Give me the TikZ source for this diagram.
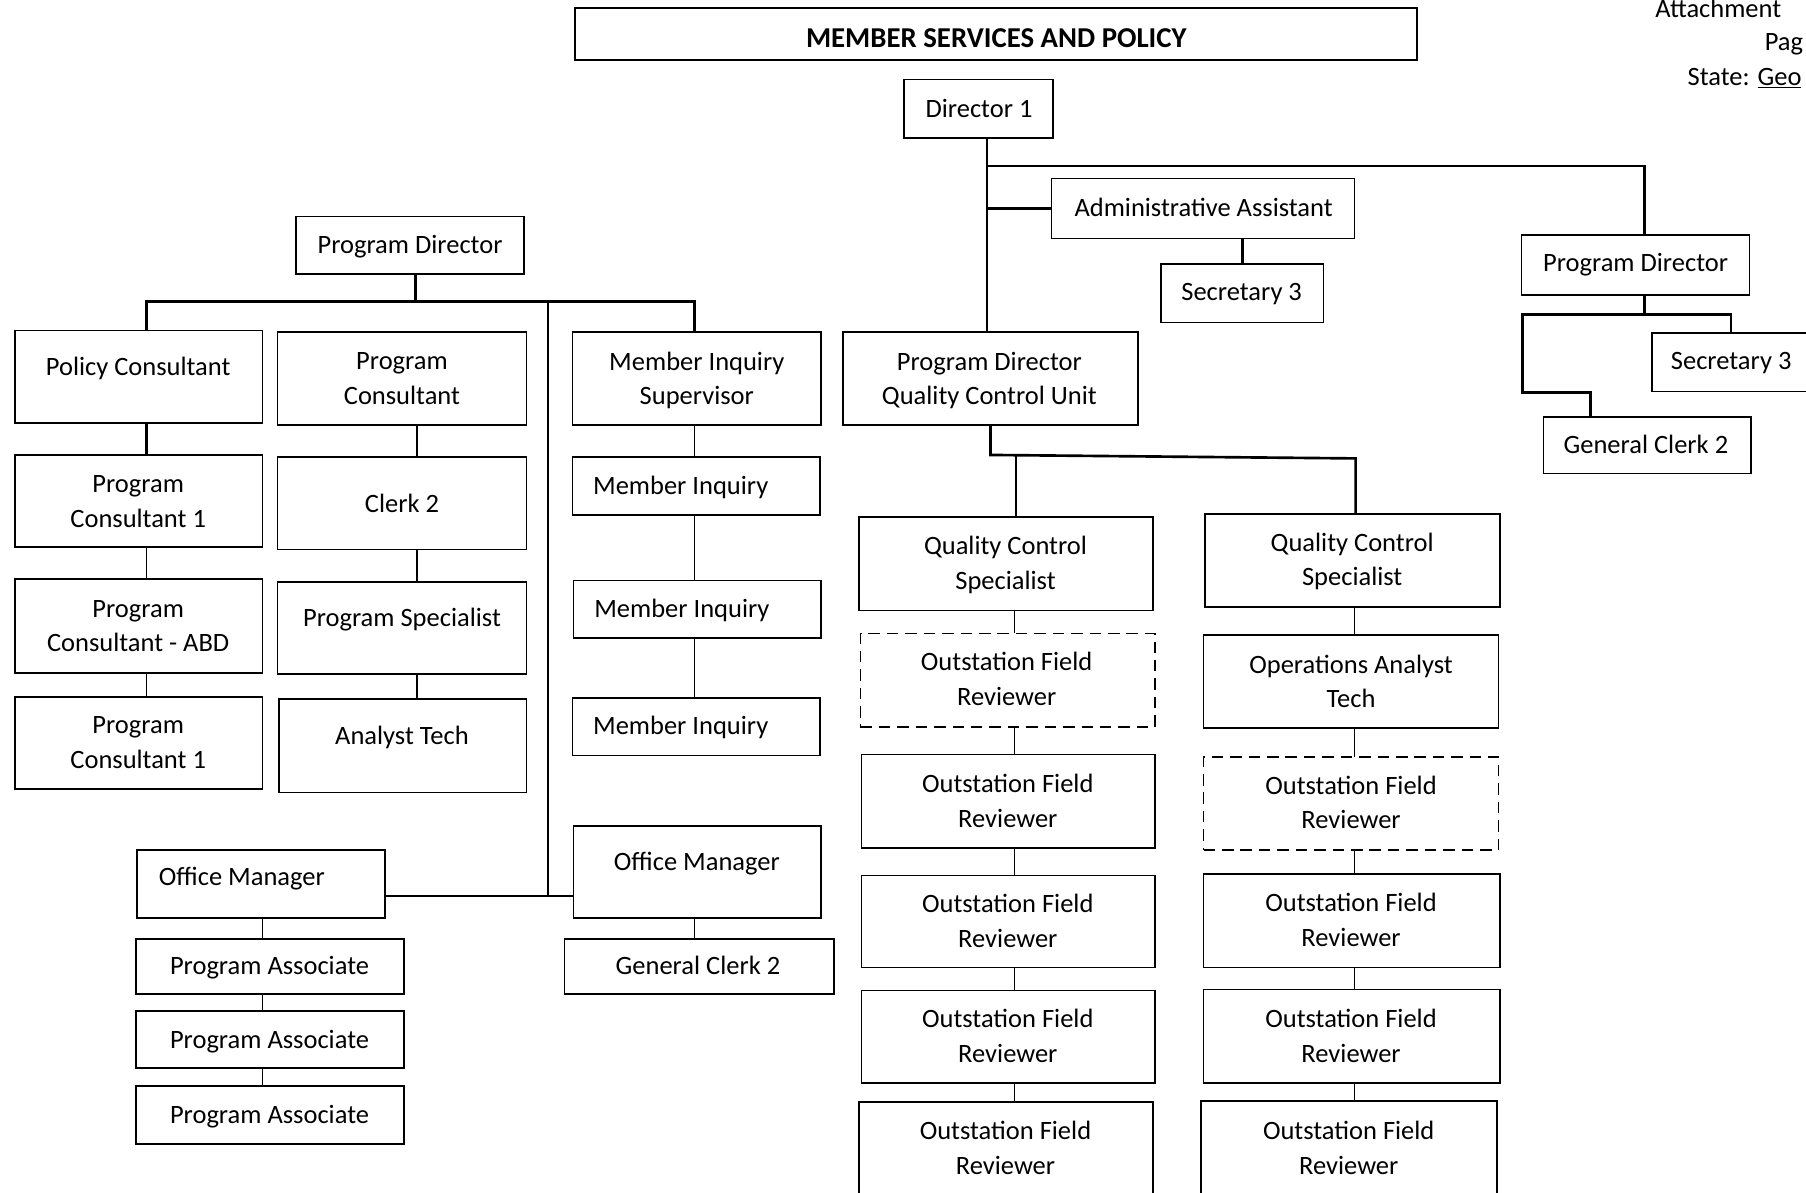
\documentclass[tikz,border=0pt]{standalone}
\usepackage{fontspec}
\setmainfont{Carlito}
\newcommand\fsz{\fontsize{23}{30}\selectfont}
\newcommand\obox[6][obx]{\node[#1, minimum width={#5pt-#3pt}, minimum height={#6pt-#4pt}] (#2) at ({(#3+#5)/2},{(#4+#6)/2}) {};}
\newcommand\otext[5][]{\node[txt,#1] (#2) at (#3,#4) {#5};}
\newcommand\oconn[4]{\draw[#1] (#2 |- #3.south) -- (#2 |- #4.north);}
\begin{document}
\begin{tikzpicture}[x=1pt,y=-1pt,
  obx/.style={draw, line width=1.5pt, rectangle, inner sep=0pt, outer sep=0pt},
  dbx/.style={obx, dash pattern=on 10pt off 6pt},
  txt/.style={font=\fsz, align=center, inner sep=0pt, yshift=-2pt, execute at begin node=\strut, execute at end node=\strut},
  tl/.style={yshift=-3pt},
  corner/.style={font=\fsz, anchor=base west, inner sep=0pt},
  thk/.style={line width=2.3pt},
  med/.style={line width=1.5pt},
  thn/.style={line width=1.1pt}]
\useasboundingbox (0,0) rectangle (1568,1035);
\clip (0,0) rectangle (1568,1035);
% corner texts
\node[corner] (att) at (1437,15) {Attachment};
\node[corner] (pag) at (1532,44) {Pag};
\node[corner] (st) at (1465,74) {State: \underline{Geo}};
% title and top
\obox{title}{499}{7}{1230}{52}
\node[txt, font=\fontsize{25}{30}\selectfont\bfseries] (titlet) at (865,33) {MEMBER SERVICES AND POLICY};
\obox{dir}{785}{69}{914}{120}   \otext{dirt}{850}{94}{Director 1}
\obox{aa}{913}{155}{1176}{207}  \otext{aat}{1045}{180}{Administrative Assistant}
\obox{sec3m}{1008}{229}{1149}{280} \otext{sec3mt}{1078}{253}{Secretary 3}
\obox{rpd}{1321}{204}{1519}{256} \otext{rpdt}{1420}{228}{Program Director}
\obox{sec3r}{1434}{289}{1590}{340} \otext{sec3rt}{1503}{313}{Secretary 3}
\obox{gc2r}{1340}{362}{1520}{411} \otext{gc2rt}{1429}{386}{General Clerk 2}
% quality control unit
\obox{qcu}{732}{288}{988}{369} \otext[tl]{qcut}{859}{328}{Program Director\\Quality Control Unit}
\obox{qcs1}{746}{449}{1001}{530} \otext[tl]{qcs1t}{873}{488}{Quality Control\\Specialist}
\obox{qcs2}{1046}{446}{1302}{527} \otext[tl]{qcs2t}{1174}{485}{Quality Control\\Specialist}
\obox[dbx]{ofrL1}{747}{550}{1003}{631} \otext[tl]{ofrL1t}{874}{589}{Outstation Field\\Reviewer}
\obox{ofrL2}{748}{655}{1003}{736} \otext[tl]{ofrL2t}{875}{695}{Outstation Field\\Reviewer}
\obox{ofrL3}{748}{760}{1003}{840} \otext[tl]{ofrL3t}{875}{799}{Outstation Field\\Reviewer}
\obox{ofrL4}{748}{860}{1003}{940} \otext[tl]{ofrL4t}{875}{899}{Outstation Field\\Reviewer}
\obox{ofrL5}{746}{957}{1001}{1050} \otext[tl]{ofrL5t}{873}{996}{Outstation Field\\Reviewer}
\obox{oat}{1045}{551}{1301}{632} \otext[tl]{oatt}{1173}{591}{Operations Analyst\\Tech}
\obox[dbx]{ofrR1}{1045}{657}{1301}{738} \otext[tl]{ofrR1t}{1173}{696}{Outstation Field\\Reviewer}
\obox{ofrR2}{1045}{759}{1302}{840} \otext[tl]{ofrR2t}{1173}{798}{Outstation Field\\Reviewer}
\obox{ofrR3}{1045}{859}{1302}{940} \otext[tl]{ofrR3t}{1173}{899}{Outstation Field\\Reviewer}
\obox{ofrR4}{1043}{956}{1300}{1050} \otext[tl]{ofrR4t}{1171}{996}{Outstation Field\\Reviewer}
% left section
\obox{pdl}{257}{188}{455}{238} \otext{pdlt}{356}{212}{Program Director}
\obox{pc}{13}{287}{228}{367} \otext{pct}{120}{318}{Policy Consultant}
\obox{prc}{241}{288}{457}{369} \otext[tl]{prct}{349}{328}{Program\\Consultant}
\obox{mis}{497}{288}{713}{369} \otext[tl]{mist}{605}{328}{Member Inquiry\\Supervisor}
\obox{pc1a}{13}{395}{228}{475} \otext[tl]{pc1at}{120}{435}{Program\\Consultant 1}
\obox{pcabd}{13}{503}{228}{584} \otext[tl]{pcabdt}{120}{543}{Program\\Consultant - ABD}
\obox{pc1b}{13}{605}{228}{685} \otext[tl]{pc1bt}{120}{644}{Program\\Consultant 1}
\obox{clk2}{241}{397}{457}{477} \otext{clk2t}{349}{437}{Clerk 2}
\obox{psp}{241}{505}{457}{585} \otext{pspt}{349}{536}{Program Specialist}
\obox{antech}{242}{607}{457}{688} \otext{antecht}{349}{638}{Analyst Tech}
\obox{mi1}{497}{397}{712}{447} \otext{mi1t}{591}{421}{Member Inquiry}
\obox{mi2}{498}{504}{713}{554} \otext{mi2t}{592}{528}{Member Inquiry}
\obox{mi3}{497}{606}{712}{656} \otext{mi3t}{591}{630}{Member Inquiry}
\obox{oml}{119}{738}{334}{797} \otext{omlt}{210}{761}{Office Manager}
\obox{omr}{498}{717}{713}{797} \otext{omrt}{605}{748}{Office Manager}
\obox{gc2l}{490}{815}{724}{863} \otext{gc2lt}{606}{838}{General Clerk 2}
\obox{pa1}{118}{815}{351}{863} \otext{pa1t}{234}{838}{Program Associate}
\obox{pa2}{118}{878}{351}{927} \otext{pa2t}{234}{902}{Program Associate}
\obox{pa3}{118}{943}{351}{993} \otext{pa3t}{234}{967}{Program Associate}
% junction coordinates
\coordinate (cD) at (857,0);
\coordinate (j1) at (857,144);
\coordinate (j2) at (857,181);
\coordinate (cR) at (1428,0);
\coordinate (r1) at (1322,273);
\coordinate (r2) at (1503,273);
\coordinate (r3) at (1322,341);
\coordinate (r4) at (1381,341);
\coordinate (q1) at (860,395);
\coordinate (q2) at (1177,398);
\coordinate (q3) at (882,395.5);
\coordinate (cL) at (881,0);
\coordinate (cR2) at (1176,0);
\coordinate (cP) at (361,0);
\coordinate (barL) at (127,262);
\coordinate (barR) at (603,262);
\coordinate (vm) at (476,262);
\coordinate (vb) at (476,778);
\coordinate (cA) at (127,0);
\coordinate (cB) at (362,0);
\coordinate (cC) at (603,0);
\coordinate (cE) at (228,0);
% top connectors
\draw[med] (cD |- dir.south) -- (cD |- qcu.north);
\draw[thk] (j1) -- (cR |- j1) -- (cR |- rpd.north);
\draw[thk] (j2) -- (aa.west);
\draw[thk] (sec3m.north |- aa.south) -- (sec3m.north);
\draw[thk] (cR |- rpd.south) -- (cR |- r1);
\draw[thk] (r2 |- sec3r.north) -- (r2) -- (r1) -- (r3) -- (r4) -- (r4 |- gc2r.north);
% QC connectors
\draw[thk] (qcu.south) -- (q1) -- (q2) -- (q2 |- qcs2.north);
\draw[thk] (q3) -- (q3 |- qcs1.north);
\oconn{thn}{cL}{qcs1}{ofrL1}
\oconn{thn}{cL}{ofrL1}{ofrL2}
\oconn{thn}{cL}{ofrL2}{ofrL3}
\oconn{thn}{cL}{ofrL3}{ofrL4}
\oconn{thn}{cL}{ofrL4}{ofrL5}
\oconn{thn}{cR2}{qcs2}{oat}
\oconn{thn}{cR2}{oat}{ofrR1}
\oconn{thn}{cR2}{ofrR1}{ofrR2}
\oconn{thn}{cR2}{ofrR2}{ofrR3}
\oconn{thn}{cR2}{ofrR3}{ofrR4}
% left connectors
\draw[thk] (cP |- pdl.south) -- (cP |- barL);
\draw[thk] (barL |- pc.north) -- (barL) -- (barR) -- (barR |- mis.north);
\draw[med] (vm) -- (vb);
\draw[med] (oml.east |- vb) -- (omr.west |- vb);
\oconn{thk}{cA}{pc}{pc1a}
\oconn{thn}{cA}{pc1a}{pcabd}
\oconn{thn}{cA}{pcabd}{pc1b}
\oconn{thn}{cB}{prc}{clk2}
\oconn{thn}{cB}{clk2}{psp}
\oconn{thn}{cB}{psp}{antech}
\oconn{thn}{cC}{mis}{mi1}
\oconn{thn}{cC}{mi1}{mi2}
\oconn{thn}{cC}{mi2}{mi3}
\oconn{thn}{cC}{omr}{gc2l}
\oconn{thn}{cE}{oml}{pa1}
\oconn{thn}{cE}{pa1}{pa2}
\oconn{thn}{cE}{pa2}{pa3}
\end{tikzpicture}
\end{document}
